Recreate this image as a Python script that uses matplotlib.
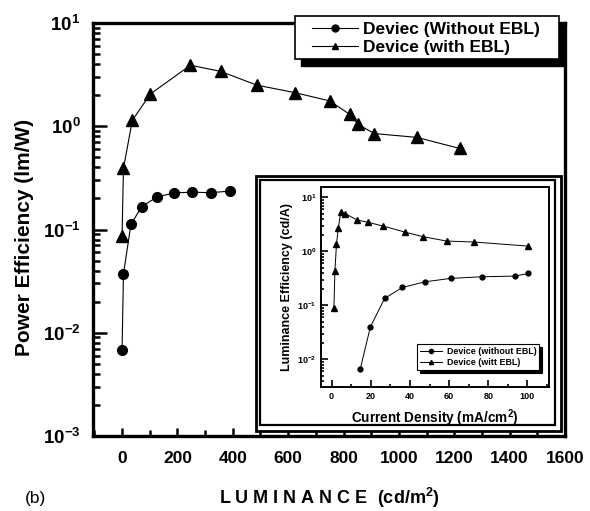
import matplotlib
matplotlib.use("Agg")
import matplotlib.pyplot as plt
from matplotlib.patches import Rectangle
import numpy as np

plt.rcParams['font.family'] = ['Liberation Sans', 'DejaVu Sans']
plt.rcParams['mathtext.fontset'] = 'custom'
plt.rcParams['mathtext.rm'] = 'Liberation Sans'
plt.rcParams['mathtext.bf'] = 'Liberation Sans:bold'
plt.rcParams['mathtext.it'] = 'Liberation Sans:italic'

# ---- main plot data: power efficiency vs luminance ----
lum_without = [0, 5, 32, 71, 126, 187, 253, 322, 390]
pe_without = [0.0068, 0.037, 0.112, 0.167, 0.206, 0.226, 0.23, 0.227, 0.236]
lum_with = [0, 5, 37, 102, 247, 356, 487, 623, 750, 823, 853, 911, 1065, 1219]
pe_with = [0.087, 0.39, 1.14, 2.05, 3.9, 3.4, 2.5, 2.12, 1.76, 1.30, 1.04, 0.85, 0.78, 0.61]

# ---- inset data: luminance efficiency vs current density ----
cd_without = [14.7, 19.8, 27.1, 36.1, 47.8, 60.8, 76.6, 93.6, 100.5]
le_without = [0.0068, 0.040, 0.135, 0.215, 0.274, 0.316, 0.339, 0.349, 0.39]
cd_with = [1.2, 1.7, 2.5, 3.4, 4.7, 7.1, 13, 18.6, 26.2, 37.3, 46.6, 58.8, 72.5, 100.5]
le_with = [0.088, 0.43, 1.36, 2.67, 5.3, 4.97, 3.8, 3.45, 2.94, 2.28, 1.87, 1.55, 1.49, 1.25]

main_xticks = [0, 200, 400, 600, 800, 1000, 1200, 1400, 1600]
main_yticks = [1e-3, 1e-2, 1e-1, 1e0, 1e1]
main_ytick_labels = [r'$\mathbf{10^{-3}}$', r'$\mathbf{10^{-2}}$', r'$\mathbf{10^{-1}}$',
                     r'$\mathbf{10^{0}}$', r'$\mathbf{10^{1}}$']
inset_xticks = [0, 20, 40, 60, 80, 100]
inset_yticks = [1e-2, 1e-1, 1e0, 1e1]
inset_ytick_labels = [r'$\mathbf{10^{-2}}$', r'$\mathbf{10^{-1}}$',
                      r'$\mathbf{10^{0}}$', r'$\mathbf{10^{1}}$']

W, H = 590, 511


def fx(px):
    return px / W


def fy(py):
    return 1 - py / H


fig = plt.figure(figsize=(5.9, 5.11), dpi=100)
ax = fig.add_axes([fx(93), fy(436), fx(565 - 93), (436 - 23) / H])

ax.plot(lum_without, pe_without, '-', color='black', lw=0.8, marker='o', ms=7,
        label='Deviec (Without EBL)')
ax.plot(lum_with, pe_with, '-', color='black', lw=0.8, marker='^', ms=8,
        label='Device (with EBL)')
ax.set_yscale('log')
ax.set_xlim(-105, 1600)
ax.set_ylim(1e-3, 1e1)
ax.set_xticks(main_xticks)
ax.set_xticklabels([str(v) for v in main_xticks], fontsize=12.5, fontweight='bold')
ax.set_xticks(np.arange(-100, 1601, 100), minor=True)
ax.set_yticks(main_yticks)
ax.set_yticklabels(main_ytick_labels, fontsize=13.5)
ax.tick_params(which='both', direction='in', width=1.8)
ax.tick_params(axis='y', which='major', length=10, pad=9)
ax.tick_params(axis='y', which='minor', length=5)
ax.tick_params(axis='x', which='major', length=6, pad=11)
ax.tick_params(axis='x', which='minor', length=4)
ax.tick_params(axis='x', which='both', top=False)
for s in ax.spines.values():
    s.set_linewidth(2.4)
ax.set_ylabel('Power Efficiency (lm/W)', fontsize=15, fontweight='bold')
ax.yaxis.set_label_coords(-0.125, 0.48)
ax.set_xlabel('L U M I N A N C E  (cd/m$\\mathbf{^2}$)', fontsize=13, fontweight='bold',
              labelpad=14)
fig.text(fx(25), fy(503), '(b)', fontsize=12.5)

# main legend: white box with black drop shadow
lx0, ly0, lx1, ly1 = 295, 16, 559, 59
fig.patches.append(Rectangle((fx(lx0 + 6), fy(ly1 + 7)), fx(lx1 - lx0), (ly1 - ly0) / H,
                             transform=fig.transFigure, facecolor='black',
                             edgecolor='black', zorder=8))
fig.patches.append(Rectangle((fx(lx0), fy(ly1)), fx(lx1 - lx0), (ly1 - ly0) / H,
                             transform=fig.transFigure, facecolor='white',
                             edgecolor='black', lw=1.2, zorder=8))
leg = fig.legend(*ax.get_legend_handles_labels(), loc='upper left',
                 bbox_to_anchor=(fx(309), fy(18)), borderaxespad=0,
                 prop={'weight': 'bold', 'size': 12.5}, handlelength=2.6,
                 frameon=False, borderpad=0.2, labelspacing=0.2, handletextpad=0.3)
leg.set_zorder(9)
for h in leg.legend_handles:
    h.set_markersize(5)

# inset double frame
fig.patches.append(Rectangle((fx(256), fy(431)), fx(561 - 256), (431 - 176) / H,
                             transform=fig.transFigure, facecolor='white',
                             edgecolor='black', lw=2.0, zorder=3))
fig.patches.append(Rectangle((fx(260), fy(425)), fx(555 - 260), (425 - 180) / H,
                             transform=fig.transFigure, facecolor='none',
                             edgecolor='black', lw=1.6, zorder=3))

ins = fig.add_axes([fx(321), fy(387), fx(549 - 321), (387 - 187) / H], zorder=5)
ins.plot(cd_without, le_without, '-', color='black', lw=0.7, marker='o', ms=3.5,
         label='Device (without EBL)')
ins.plot(cd_with, le_with, '-', color='black', lw=0.7, marker='^', ms=4,
         label='Device (witt EBL)')
ins.set_yscale('log')
ins.set_xlim(-5.4, 111)
ins.set_ylim(3.1e-3, 15.5)
ins.set_xticks(inset_xticks)
ins.set_xticklabels([str(v) for v in inset_xticks], fontsize=6.5, fontweight='bold')
ins.set_xticks(np.arange(0, 111, 10), minor=True)
ins.set_yticks(inset_yticks)
ins.set_yticklabels(inset_ytick_labels, fontsize=6.5)
ins.tick_params(which='both', direction='in', width=1.2)
ins.tick_params(which='major', length=5)
ins.tick_params(which='minor', length=2.5)
ins.tick_params(axis='x', which='both', top=False)
for s in ins.spines.values():
    s.set_linewidth(1.4)
ins.set_ylabel('Luminance Efficiency (cd/A)', fontsize=9, fontweight='bold', labelpad=3)
ins.set_xlabel('Current Density (mA/cm$\\mathbf{^2}$)', fontsize=9.8, fontweight='bold',
               labelpad=5)
ileg = ins.legend(loc='lower right', bbox_to_anchor=(0.956, 0.085), borderaxespad=0,
                  prop={'weight': 'bold', 'size': 6.4}, handlelength=2.5,
                  frameon=True, fancybox=False, edgecolor='black', framealpha=1,
                  borderpad=0.3, labelspacing=0.3, handletextpad=0.5,
                  shadow={'color': 'black', 'alpha': 1})
ileg.get_frame().set_linewidth(0.8)
for h in ileg.legend_handles:
    h.set_markersize(3)

fig.savefig('out.png', dpi=100)
